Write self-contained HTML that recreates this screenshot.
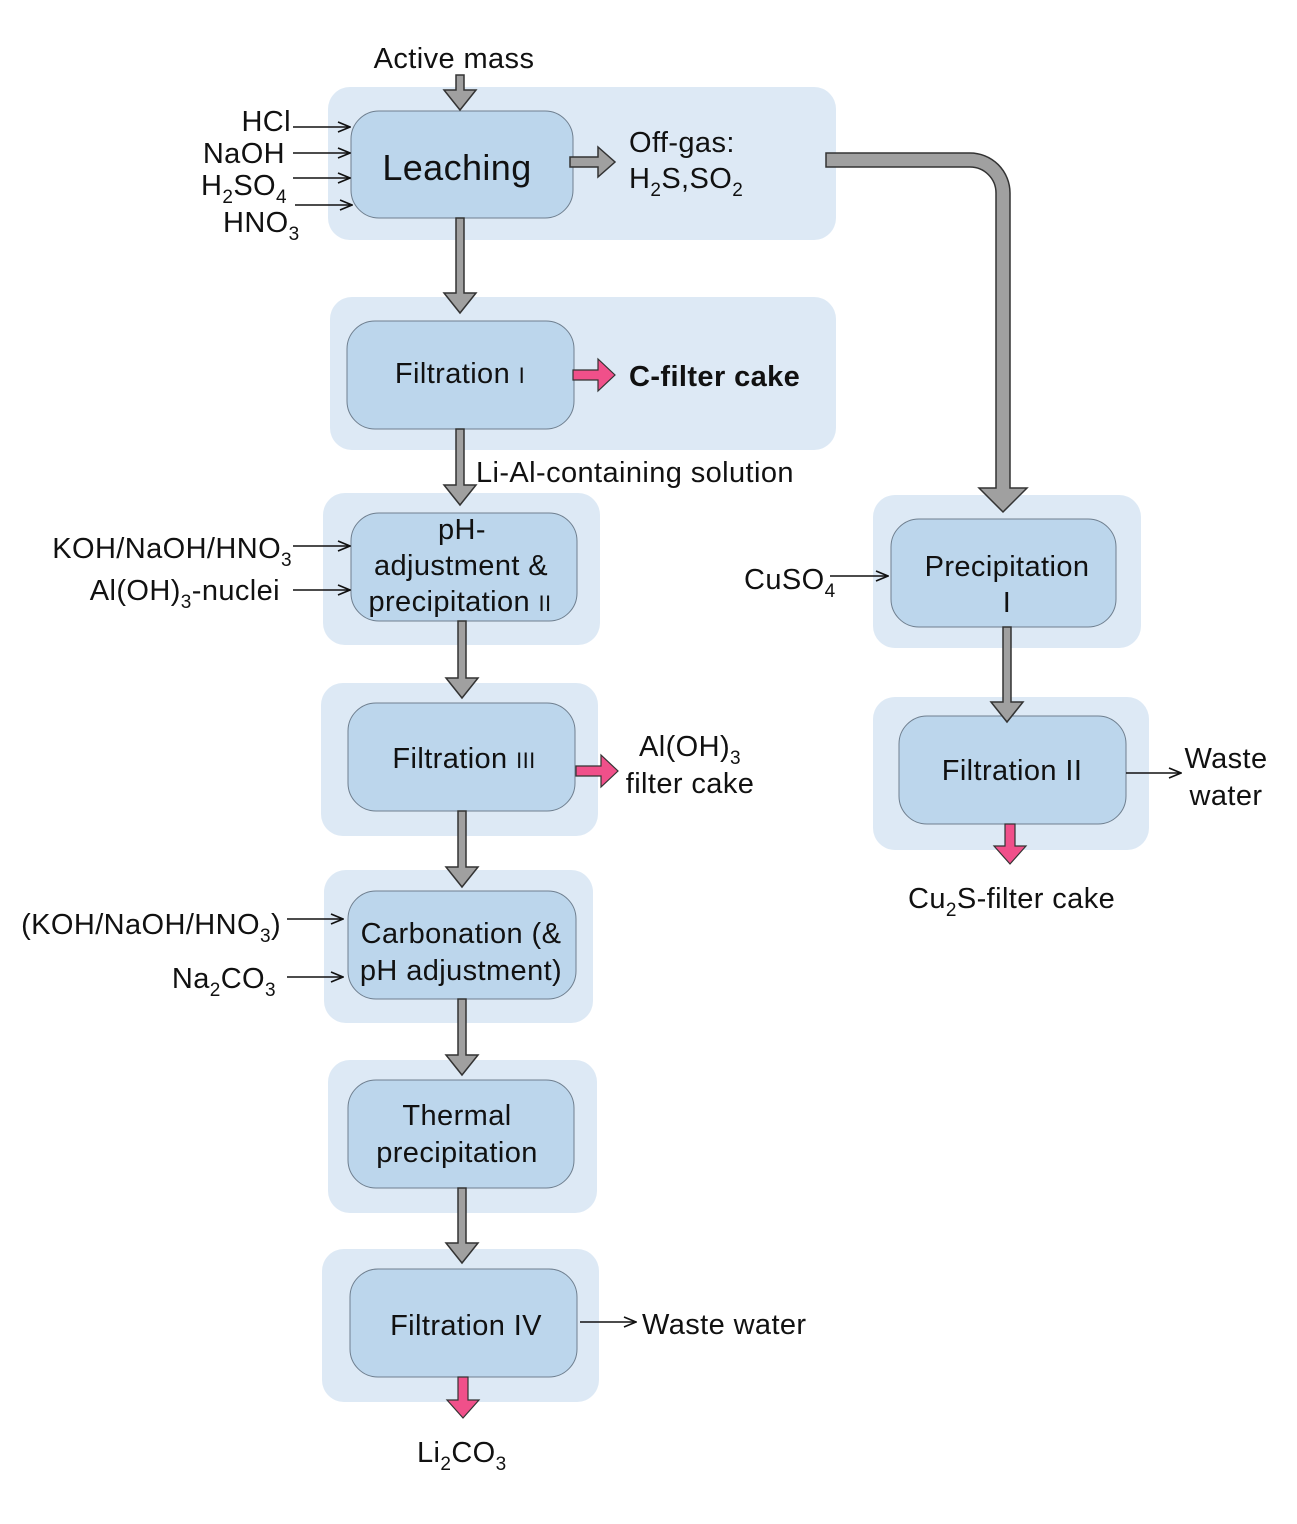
<!DOCTYPE html>
<html><head><meta charset="utf-8"><style>
html,body{margin:0;padding:0;background:#fff}
svg{display:block}
text{font-family:"Liberation Sans",Arial,sans-serif;fill:#111;font-size:29px;letter-spacing:0.4px}
.s{font-size:19px}
.r{font-size:22px}
.L{font-size:36px}
.o{fill:#dde9f5}
.b{fill:#bcd6ec;stroke:#6f7f8f;stroke-width:1}
.g{fill:#a0a0a0;stroke:#333;stroke-width:1.5}
.p{fill:#f0508a;stroke:#333;stroke-width:1.2}
.t{stroke:#111;stroke-width:1.6;fill:none}
</style></head><body>
<svg width="1297" height="1524" viewBox="0 0 1297 1524" xmlns="http://www.w3.org/2000/svg">
<defs>
<marker id="a" markerWidth="14" markerHeight="12" refX="13" refY="6" orient="auto" markerUnits="userSpaceOnUse">
<path d="M1,1 L13,6 L1,11" fill="none" stroke="#111" stroke-width="1.6"/></marker>
</defs>
<rect class="o" x="328" y="87" width="508" height="153" rx="22"/>
<rect class="o" x="330" y="297" width="506" height="153" rx="22"/>
<rect class="o" x="323" y="493" width="277" height="152" rx="22"/>
<rect class="o" x="321" y="683" width="277" height="153" rx="22"/>
<rect class="o" x="324" y="870" width="269" height="153" rx="22"/>
<rect class="o" x="328" y="1060" width="269" height="153" rx="22"/>
<rect class="o" x="322" y="1249" width="277" height="153" rx="22"/>
<rect class="o" x="873" y="495" width="268" height="153" rx="22"/>
<rect class="o" x="873" y="697" width="276" height="153" rx="22"/>
<rect class="b" x="351" y="111" width="222" height="107" rx="28"/>
<rect class="b" x="347" y="321" width="227" height="108" rx="28"/>
<rect class="b" x="351" y="513" width="226" height="108" rx="28"/>
<rect class="b" x="348" y="703" width="227" height="108" rx="28"/>
<rect class="b" x="348" y="891" width="228" height="108" rx="28"/>
<rect class="b" x="348" y="1080" width="226" height="108" rx="28"/>
<rect class="b" x="350" y="1269" width="227" height="108" rx="28"/>
<rect class="b" x="891" y="519" width="225" height="108" rx="28"/>
<rect class="b" x="899" y="716" width="227" height="108" rx="28"/>
<path class="g" d="M456,75 H464 V90 H476 L460,110 L444,90 H456 Z"/>
<path class="g" d="M456,218 H464 V293 H476 L460,313 L444,293 H456 Z"/>
<path class="g" d="M456,429 H464 V485 H476 L460,505 L444,485 H456 Z"/>
<path class="g" d="M458,621 H466 V678 H478 L462,698 L446,678 H458 Z"/>
<path class="g" d="M458,811 H466 V867 H478 L462,887 L446,867 H458 Z"/>
<path class="g" d="M458,999 H466 V1055 H478 L462,1075 L446,1055 H458 Z"/>
<path class="g" d="M458,1188 H466 V1243 H478 L462,1263 L446,1243 H458 Z"/>
<path class="g" d="M1003,627 H1011 V702 H1023 L1007,722 L991,702 H1003 Z"/>
<path class="g" d="M570,157 H598 V147 L615,162 L598,177 V167 H570 Z"/>
<path class="g" d="M826,153 H970 A40,40 0 0 1 1010,193 V488 H1027 L1003,512 L979,488 H996 V193 A26,26 0 0 0 970,167 H826 Z"/>
<path class="p" d="M573,370 H598 V359 L615,375 L598,391 V380 H573 Z"/>
<path class="p" d="M576,766 H601 V755 L618,771 L601,787 V776 H576 Z"/>
<path class="p" d="M1005,824 H1015 V846 H1026 L1010,864 L994,846 H1005 Z"/>
<path class="p" d="M458,1377 H468 V1400 H479 L463,1418 L447,1400 H458 Z"/>
<line class="t" x1="293" y1="127" x2="350" y2="127" marker-end="url(#a)"/>
<line class="t" x1="293" y1="153" x2="350" y2="153" marker-end="url(#a)"/>
<line class="t" x1="293" y1="178" x2="350" y2="178" marker-end="url(#a)"/>
<line class="t" x1="295" y1="205" x2="352" y2="205" marker-end="url(#a)"/>
<line class="t" x1="293" y1="546" x2="350" y2="546" marker-end="url(#a)"/>
<line class="t" x1="293" y1="590" x2="350" y2="590" marker-end="url(#a)"/>
<line class="t" x1="830" y1="576" x2="888" y2="576" marker-end="url(#a)"/>
<line class="t" x1="287" y1="919" x2="343" y2="919" marker-end="url(#a)"/>
<line class="t" x1="287" y1="977" x2="343" y2="977" marker-end="url(#a)"/>
<line class="t" x1="1126" y1="773" x2="1181" y2="773" marker-end="url(#a)"/>
<line class="t" x1="580" y1="1322" x2="636" y2="1322" marker-end="url(#a)"/>
<text x="454" y="68" text-anchor="middle">Active mass</text>
<text x="291" y="131" text-anchor="end">HCl</text>
<text x="285" y="163" text-anchor="end">NaOH</text>
<text x="201" y="195">H<tspan class="s" dy="8">2</tspan><tspan dy="-8">SO</tspan><tspan class="s" dy="8">4</tspan></text>
<text x="223" y="232">HNO<tspan class="s" dy="8">3</tspan></text>
<text x="457" y="180" text-anchor="middle" class="L">Leaching</text>
<text x="629" y="152">Off-gas:</text>
<text x="629" y="188">H<tspan class="s" dy="8">2</tspan><tspan dy="-8">S,SO</tspan><tspan class="s" dy="8">2</tspan></text>
<text x="460" y="383" text-anchor="middle">Filtration <tspan class="r">I</tspan></text>
<text x="629" y="386" font-weight="bold">C-filter cake</text>
<text x="476" y="482">Li-Al-containing solution</text>
<text x="462" y="539" text-anchor="middle">pH-</text>
<text x="461" y="575" text-anchor="middle">adjustment &amp;</text>
<text x="460" y="611" text-anchor="middle">precipitation <tspan class="r">II</tspan></text>
<text x="292" y="558" text-anchor="end">KOH/NaOH/HNO<tspan class="s" dy="8">3</tspan></text>
<text x="280" y="600" text-anchor="end">Al(OH)<tspan class="s" dy="8">3</tspan><tspan dy="-8">-nuclei</tspan></text>
<text x="464" y="768" text-anchor="middle">Filtration <tspan class="r">III</tspan></text>
<text x="690" y="756" text-anchor="middle">Al(OH)<tspan class="s" dy="8">3</tspan></text>
<text x="690" y="793" text-anchor="middle">filter cake</text>
<text x="281" y="934" text-anchor="end">(KOH/NaOH/HNO<tspan class="s" dy="8">3</tspan><tspan dy="-8">)</tspan></text>
<text x="276" y="988" text-anchor="end">Na<tspan class="s" dy="8">2</tspan><tspan dy="-8">CO</tspan><tspan class="s" dy="8">3</tspan></text>
<text x="461" y="943" text-anchor="middle">Carbonation (&amp;</text>
<text x="461" y="980" text-anchor="middle">pH adjustment)</text>
<text x="457" y="1125" text-anchor="middle">Thermal</text>
<text x="457" y="1162" text-anchor="middle">precipitation</text>
<text x="466" y="1335" text-anchor="middle">Filtration IV</text>
<text x="642" y="1334">Waste water</text>
<text x="417" y="1462">Li<tspan class="s" dy="8">2</tspan><tspan dy="-8">CO</tspan><tspan class="s" dy="8">3</tspan></text>
<text x="1007" y="576" text-anchor="middle">Precipitation</text>
<text x="1007" y="612" text-anchor="middle">I</text>
<text x="744" y="589">CuSO<tspan class="s" dy="8">4</tspan></text>
<text x="1012" y="780" text-anchor="middle">Filtration II</text>
<text x="1226" y="768" text-anchor="middle">Waste</text>
<text x="1226" y="805" text-anchor="middle">water</text>
<text x="908" y="908">Cu<tspan class="s" dy="8">2</tspan><tspan dy="-8">S-filter cake</tspan></text>
</svg>
</body></html>
